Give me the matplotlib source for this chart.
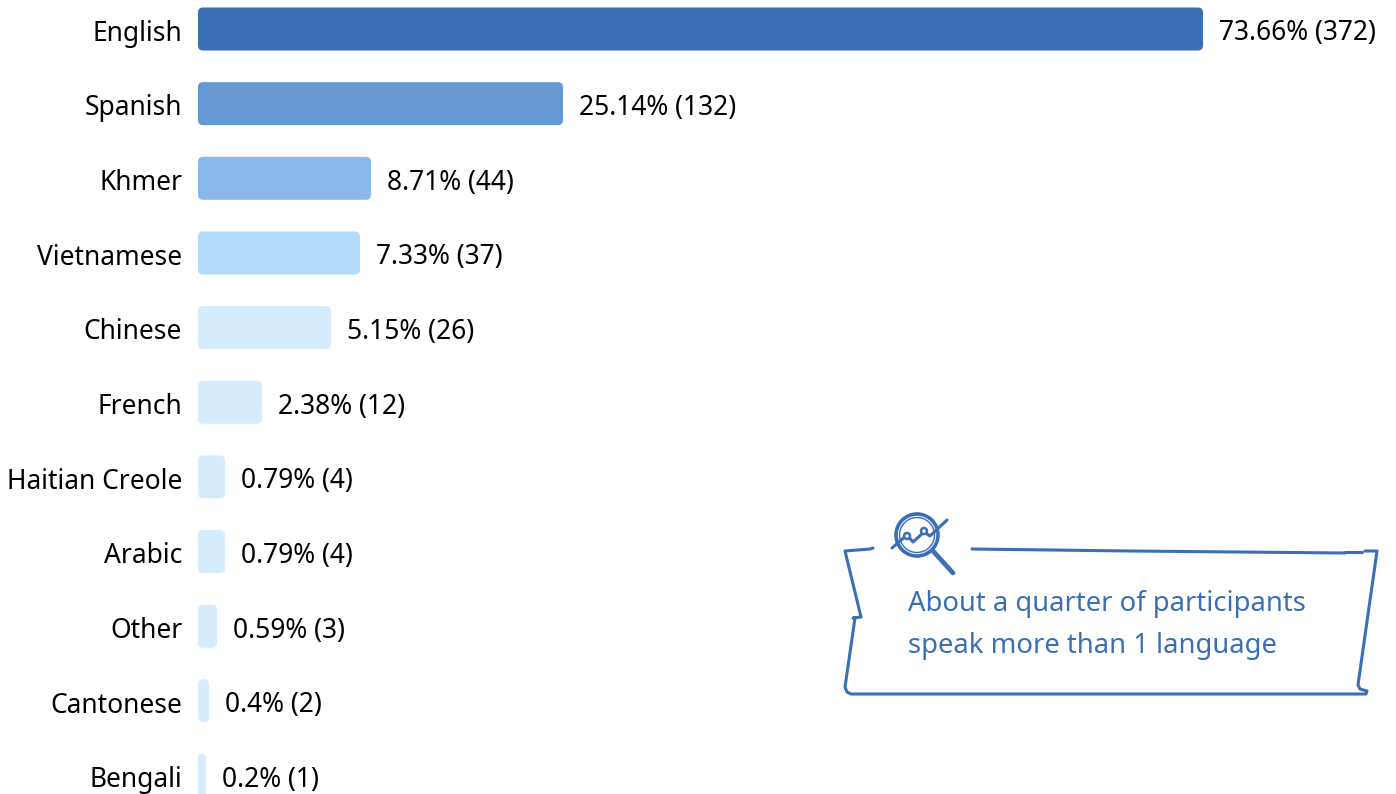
import numpy as np
import matplotlib
matplotlib.use('Agg')
import matplotlib.pyplot as plt
from matplotlib.patches import FancyBboxPatch, Circle
from matplotlib.transforms import IdentityTransform, ScaledTranslation

## 언어별 응답 데이터
languages = ['English', 'Spanish', 'Khmer', 'Vietnamese', 'Chinese', 'French',
             'Haitian Creole', 'Arabic', 'Other', 'Cantonese', 'Bengali']
percents = [73.66, 25.14, 8.71, 7.33, 5.15, 2.38, 0.79, 0.79, 0.59, 0.4, 0.2]
counts = [372, 132, 44, 37, 26, 12, 4, 4, 3, 2, 1]
bar_colors = ['#3a6fb5', '#6699d4', '#88b9ea', '#b3dafb', '#d6ebfb', '#d6ebfb',
              '#d6ebfb', '#d6ebfb', '#d6ebfb', '#d6ebfb', '#d6ebfb']

## x축 눈금 변환 (구간별 비선형 스케일)
scale_pct = [0, 0.2, 0.4, 0.59, 0.79, 2.38, 5.15, 7.33, 8.71, 25.14, 73.66]
scale_pos = [0, 8, 11, 19, 27, 64, 133, 162, 173, 365, 1005]

W, H = 1396, 794
BLUE = '#3a6fb5'

plt.rcParams['font.family'] = ['Noto Sans', 'DejaVu Sans']
fig = plt.figure(figsize=(W / 100, H / 100), dpi=100)

## 막대 영역 : x는 0 ~ 73.66%, y는 카테고리 인덱스
ax = fig.add_axes([198 / W, 0, 1005 / W, 1])
ax.set_xscale('function', functions=(lambda v: np.interp(v, scale_pct, scale_pos),
                                     lambda p: np.interp(p, scale_pos, scale_pct)))
ax.set_xlim(0, 73.66)
step = 74.65
ax.set_ylim((H - 29) / step, -29 / step)
for s in ax.spines.values():
    s.set_visible(False)
ax.set_xticks([])
ax.minorticks_off()

y_pos = np.arange(len(languages))
bars = ax.barh(y_pos, percents, height=43 / step, color=bar_colors)
ax.set_yticks(y_pos, languages, fontsize=19, color='black')
ax.tick_params(axis='y', length=0, pad=11.4)
## 라벨을 조금 아래로
label_shift = ScaledTranslation(0, -0.9 / 72, fig.dpi_scale_trans)
for lab in ax.get_yticklabels():
    lab.set_verticalalignment('center_baseline')
    lab.set_transform(lab.get_transform() + label_shift)

## 모서리가 둥근 막대로 교체
fig.canvas.draw()
for bar, col in zip(bars, bar_colors):
    bb = bar.get_window_extent()
    bar.set_visible(False)
    rad = min(5, bb.width / 2)
    fig.add_artist(FancyBboxPatch((bb.x0 + rad, bb.y0 + rad), bb.width - 2 * rad, bb.height - 2 * rad,
                                  boxstyle=f'round,pad={rad},rounding_size={rad}',
                                  fc=col, ec='none', transform=IdentityTransform()))

## 값 라벨
for y, pct, cnt in zip(y_pos, percents, counts):
    ax.annotate(f'{pct:g}% ({cnt})', (pct, y), xytext=(11.8, -0.6), textcoords='offset points',
                va='center_baseline', ha='left', fontsize=19, color='black', annotation_clip=False)

## 콜아웃 상자 (손그림 테두리, 픽셀 좌표 기준)
overlay = fig.add_axes([0, 0, 1, 1], facecolor='none')
overlay.set_xlim(0, W)
overlay.set_ylim(H, 0)
overlay.axis('off')

outline = [
    [(873, 548), (870, 549), (845, 551), (861, 617), (853, 618), (855, 618), (845, 687),
     (847, 692), (851, 694), (1366, 694), (1367, 691), (1360, 689), (1358, 685), (1377, 551), (1365, 551)],
    [(972, 549), (1130, 551), (1345, 553)],
    [(1345, 552), (1362, 552)],
]
for seg in outline:
    xs, ys = zip(*seg)
    overlay.plot(xs, ys, color=BLUE, lw=2.2, solid_joinstyle='round', solid_capstyle='round')

## 돋보기 아이콘
overlay.add_patch(Circle((917, 535), 21, fc='none', ec=BLUE, lw=2.6))
overlay.add_patch(Circle((917, 535), 17.5, fc='none', ec=BLUE, lw=1.0))
overlay.plot([933, 953], [551, 573], color=BLUE, lw=3.4, solid_capstyle='round')
overlay.plot([892, 907, 913, 924, 930, 947], [548, 535, 542, 532, 536, 520],
             color=BLUE, lw=2.2, solid_capstyle='round', solid_joinstyle='round')
for cx, cy in [(907, 536), (924, 531)]:
    overlay.add_patch(Circle((cx, cy), 3, fc='white', ec=BLUE, lw=1.8, zorder=3))

overlay.text(907.5, 601, 'About a quarter of participants', color=BLUE, fontsize=19.72, va='center_baseline')
overlay.text(907.5, 642.7, 'speak more than 1 language', color=BLUE, fontsize=19.72, va='center_baseline')

fig.savefig('out.png', dpi=100)
